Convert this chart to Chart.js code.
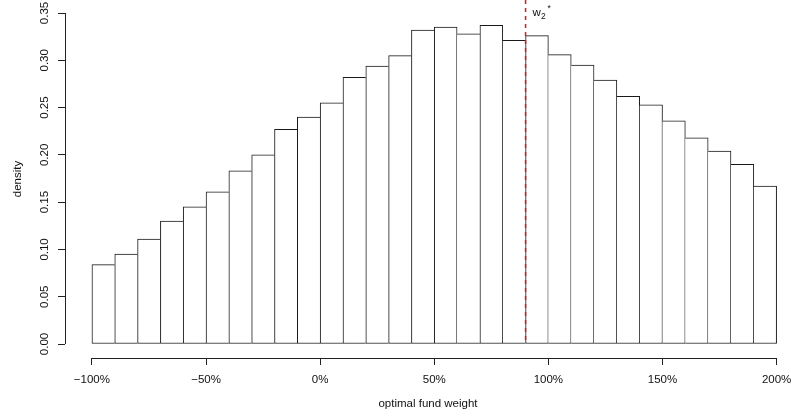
<!DOCTYPE html>
<html>
<head>
<meta charset="utf-8">
<script src="https://cdn.jsdelivr.net/npm/chart.js@4.4.1/dist/chart.umd.min.js"></script>
<style>
  html, body { margin: 0; padding: 0; background: #fff; }
</style>
</head>
<body>
<canvas id="hist" width="791" height="417"></canvas>
<script>
// bin centres of the histogram (bins are 10% wide, -100% .. 200%)
const binCenters = [-95, -85, -75, -65, -55, -45, -35, -25, -15, -5,
                    5, 15, 25, 35, 45, 55, 65, 75, 85, 95,
                    105, 115, 125, 135, 145, 155, 165, 175, 185, 195];
const density = [0.084, 0.095, 0.111, 0.130, 0.145, 0.161, 0.183, 0.200, 0.227, 0.240,
                 0.255, 0.282, 0.294, 0.305, 0.332, 0.335, 0.328, 0.337, 0.321, 0.326,
                 0.306, 0.295, 0.279, 0.262, 0.253, 0.236, 0.218, 0.204, 0.190, 0.167];
const xTicks = [-100, -50, 0, 50, 100, 150, 200];
const yTicks = [0, 0.05, 0.10, 0.15, 0.20, 0.25, 0.30, 0.35];
const wStar = 90;

const font = '"Liberation Sans", Arial, Helvetica, sans-serif';

function pct(v) {
  return (v < 0 ? '\u2212' + Math.abs(v) : v) + '%';
}

// each shared edge is drawn once, by the taller of the two bars
function edges(ctx) {
  const i = ctx.dataIndex;
  const h = density[i];
  const last = density.length - 1;
  return {
    top: 1,
    bottom: 1,
    left: (i === 0 || density[i - 1] <= h) ? 1 : 0,
    right: (i === last || density[i + 1] < h) ? 1 : 0
  };
}

const rAxes = {
  id: 'rAxes',
  afterDraw(chart) {
    const ctx = chart.ctx;
    const x = chart.scales.x;
    const y = chart.scales.y;
    ctx.save();
    ctx.strokeStyle = '#222';
    ctx.lineWidth = 1;
    // y axis line, only over the tick range
    ctx.beginPath();
    ctx.moveTo(65.5, y.getPixelForValue(yTicks[0]));
    ctx.lineTo(65.5, y.getPixelForValue(yTicks[yTicks.length - 1]));
    ctx.stroke();
    // x axis line
    const ay = chart.chartArea.bottom + 0.5;
    ctx.beginPath();
    ctx.moveTo(x.getPixelForValue(xTicks[0]), ay);
    ctx.lineTo(x.getPixelForValue(xTicks[xTicks.length - 1]), ay);
    ctx.stroke();

    // rotated y tick labels
    ctx.fillStyle = '#111';
    ctx.font = '11.5px ' + font;
    ctx.textAlign = 'center';
    ctx.textBaseline = 'middle';
    y.ticks.forEach(t => {
      ctx.save();
      ctx.translate(45, y.getPixelForValue(t.value));
      ctx.rotate(-Math.PI / 2);
      ctx.fillText(t.value.toFixed(2), 0, 0);
      ctx.restore();
    });

    // dashed marker line with label
    const px = x.getPixelForValue(wStar);
    ctx.strokeStyle = 'rgb(215, 25, 25)';
    ctx.lineWidth = 1.5;
    ctx.setLineDash([4, 4]);
    ctx.beginPath();
    ctx.moveTo(px, chart.chartArea.top);
    ctx.lineTo(px, y.getPixelForValue(0));
    ctx.stroke();
    ctx.setLineDash([]);

    ctx.fillStyle = '#111';
    ctx.textAlign = 'left';
    ctx.textBaseline = 'alphabetic';
    ctx.font = '11.5px ' + font;
    ctx.fillText('w', px + 7, 16);
    ctx.font = '8.5px ' + font;
    ctx.fillText('2', px + 15.5, 18.5);
    ctx.fillText('*', px + 22, 11);
    ctx.restore();
  }
};

new Chart(document.getElementById('hist'), {
  type: 'bar',
  data: {
    datasets: [{
      data: binCenters.map((c, i) => ({ x: c, y: density[i] })),
      backgroundColor: '#ffffff',
      borderColor: '#1a1a1a',
      borderSkipped: false,
      borderWidth: edges,
      barPercentage: 1,
      categoryPercentage: 1
    }]
  },
  options: {
    responsive: false,
    animation: false,
    devicePixelRatio: 1,
    layout: { padding: 0 },
    plugins: {
      legend: { display: false },
      tooltip: { enabled: false }
    },
    scales: {
      x: {
        type: 'linear',
        offset: false,
        min: -111.8,
        max: 206.3,
        afterBuildTicks: s => { s.ticks = xTicks.map(v => ({ value: v })); },
        afterFit: s => { s.height = 59; s.paddingLeft = 0; s.paddingRight = 0; },
        border: { display: false },
        grid: { offset: false, drawOnChartArea: false, drawTicks: true, tickLength: 7, color: '#222' },
        ticks: {
          padding: 8,
          color: '#111',
          font: { family: font, size: 11.5 },
          maxRotation: 0,
          callback: v => pct(v)
        },
        title: {
          display: true,
          text: 'optimal fund weight',
          color: '#111',
          font: { family: font, size: 11.5 },
          padding: { top: 0, bottom: 6 }
        }
      },
      y: {
        min: -0.0148,
        max: 0.36375,
        afterBuildTicks: s => { s.ticks = yTicks.map(v => ({ value: v })); },
        afterFit: s => { s.width = 65; s.paddingTop = 0; s.paddingBottom = 0; },
        border: { display: false },
        grid: { drawOnChartArea: false, drawTicks: true, tickLength: 7, color: '#222' },
        ticks: { display: false },
        title: {
          display: true,
          text: 'density',
          color: '#111',
          font: { family: font, size: 11.5 },
          padding: { top: 11, bottom: 0 }
        }
      }
    }
  },
  plugins: [rAxes]
});
</script>
</body>
</html>
